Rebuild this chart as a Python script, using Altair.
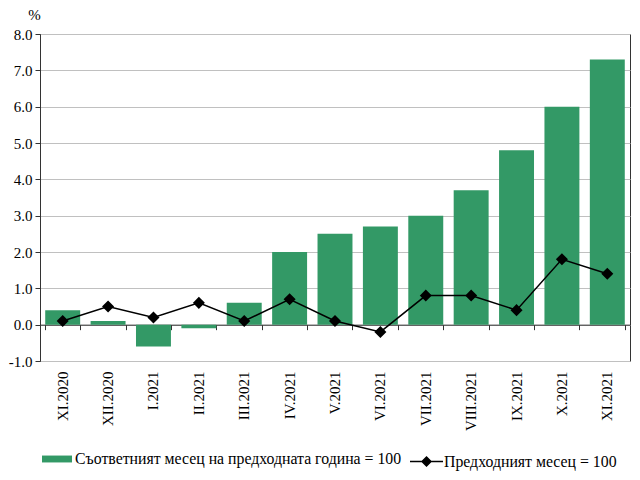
import altair as alt
import pandas as pd

months = ["XI.2020", "XII.2020", "I.2021", "II.2021", "III.2021", "IV.2021", "V.2021",
          "VI.2021", "VII.2021", "VIII.2021", "IX.2021", "X.2021", "XI.2021"]
yoy = [0.4, 0.1, -0.6, -0.1, 0.6, 2.0, 2.5, 2.7, 3.0, 3.7, 4.8, 6.0, 7.3]
mom = [0.1, 0.5, 0.2, 0.6, 0.1, 0.7, 0.1, -0.2, 0.8, 0.8, 0.4, 1.8, 1.4]
yticks = [-1, 0, 1, 2, 3, 4, 5, 6, 7, 8]

bar_name = "Съответният месец на предходната година = 100"
line_name = "Предходният месец = 100"

df = pd.DataFrame({"month": months, "yoy": yoy, "mom": mom})

FONT = "Liberation Serif"
H = 327
offset0 = -H / 9.0  # zero line is one unit above the bottom (-1)

xscale = alt.Scale(domain=months, paddingInner=0.23, paddingOuter=0.115)
yscale = alt.Scale(domain=[-1, 8], nice=False, zero=False)

yaxis = alt.Axis(values=yticks, format=".1f", labelExpr="replace(datum.label, '−', '-')",
                 title="%", titleAngle=0,
                 titleFont=FONT, titleFontSize=15, titleFontWeight="normal",
                 titleColor="black", titleX=-6, titleY=-15, titleAlign="center",
                 titleBaseline="alphabetic",
                 labelFont=FONT, labelFontSize=15, labelColor="black",
                 labelOverlap=False,
                 grid=True, gridColor="#c0c0c0", gridWidth=1,
                 domainColor="#333333", tickColor="#333333", tickSize=5,
                 labelPadding=3)

bars = alt.Chart(df).mark_bar(color="#339966").encode(
    x=alt.X("month:N", sort=months, scale=xscale,
            axis=alt.Axis(title=None, orient="bottom", labelAngle=270, labelAlign="right",
                          labelBaseline="middle", labelFont=FONT, labelFontSize=15,
                          labelColor="black", ticks=False, domain=False, labelPadding=10)),
    y=alt.Y("yoy:Q", scale=yscale, axis=yaxis),
    fill=alt.Fill("s:N", scale=alt.Scale(domain=[bar_name], range=["#339966"]),
                  legend=alt.Legend(title=None, orient="none", legendX=2, legendY=410,
                                    symbolType="M-1,-0.23H1V0.23H-1Z", symbolSize=900,
                                    symbolStrokeWidth=0, labelFont=FONT, labelFontSize=15.8,
                                    labelColor="black", labelOffset=3, labelLimit=0)),
).transform_calculate(s=f"'{bar_name}'")

line = alt.Chart(df).mark_line(
    color="black", strokeWidth=1.5,
    point=alt.OverlayMarkDef(shape="diamond", size=85, filled=True, color="black"),
).encode(
    x=alt.X("month:N", sort=months, scale=xscale,
            axis=alt.Axis(title=None, orient="bottom", labels=False, offset=offset0,
                          domain=True, domainColor="#333333", ticks=True, tickBand="extent",
                          tickColor="#333333", tickSize=5, grid=False)),
    y=alt.Y("mom:Q", scale=yscale, axis=yaxis),
    stroke=alt.Stroke("s2:N", scale=alt.Scale(domain=[line_name], range=["black"]),
                      legend=alt.Legend(title=None, orient="none", legendX=369, legendY=410,
                                        symbolType="M-1,0H1M-0.27,0L0,-0.27L0.27,0L0,0.27Z",
                                        symbolSize=1089, symbolStrokeWidth=1.5,
                                        symbolFillColor="black", labelFont=FONT,
                                        labelFontSize=15.8, labelColor="black", labelOffset=0,
                                        labelLimit=0)),
).transform_calculate(s2=f"'{line_name}'")

chart = alt.layer(bars, line).resolve_axis(x="independent").properties(
    width=590, height=H,
    autosize=alt.AutoSizeParams(type="none"),
    padding={"left": 32, "top": 26, "right": 2, "bottom": 110},
    background="white",
).configure_view(stroke="#333333", strokeWidth=1).configure_axis(labelOverlap=False)

chart.save("out.html", embed_options={"renderer": "svg", "actions": False})
